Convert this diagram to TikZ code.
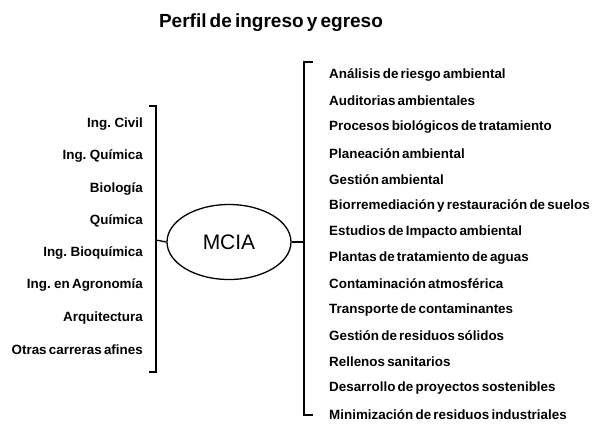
\documentclass[tikz,border=0pt]{standalone}
\usepackage{fontspec}
\setmainfont{Liberation Sans}[WordSpace=0.6]
\usetikzlibrary{shapes.geometric}
\begin{document}
\begin{tikzpicture}[x=1pt,y=-1pt,
  lbl/.style={font=\bfseries\fontsize{13.4}{15}\selectfont, inner sep=0pt},
  leftlbl/.style={lbl, anchor=east},
  rightlbl/.style={lbl, anchor=west},
  brk/.style={line width=1.3pt},
  conn/.style={line width=1.3pt}]
\useasboundingbox (0,0) rectangle (602,423);
\node[font=\bfseries\fontsize{19}{22}\selectfont, inner sep=0pt] (title) at (271,23) {Perfil de ingreso y egreso};
% left labels
\foreach \t [count=\i] in {Ing. Civil, Ing. Química, Biología, Química, Ing. Bioquímica, Ing. en Agronomía, Arquitectura, Otras carreras afines}
  \node[leftlbl] (L\i) at (143,{124+(\i-1)*32.3}) {\t};
% right labels
\foreach \t [count=\i] in {Análisis de riesgo ambiental, Auditorias ambientales, Procesos biológicos de tratamiento, Planeación ambiental, Gestión ambiental, Biorremediación y restauración de suelos, Estudios de Impacto ambiental, Plantas de tratamiento de aguas, Contaminación atmosférica, Transporte de contaminantes, Gestión de residuos sólidos, Rellenos sanitarios, Desarrollo de proyectos sostenibles, Minimización de residuos industriales}
  \node[rightlbl] (R\i) at (329,{75+(\i-1)*26.1}) {\t};
% ellipse
\node[draw, ellipse, line width=1.3pt, minimum width=124pt, minimum height=75pt, inner sep=0pt, font=\fontsize{21}{25}\selectfont] (M) at (229,242) {MCIA};
% left bracket
\coordinate (lt) at (156,106);
\coordinate (lb) at (156,372);
\coordinate (lm) at (156,240);
\draw[brk] ([xshift=-7pt]lt) -- (lt) -- (lb) -- ([xshift=-7pt]lb);
\draw[conn] (lm) -- (M.west);
% right bracket
\coordinate (rt) at (304,62);
\coordinate (rb) at (304,415);
\coordinate (rm) at (304,242);
\draw[brk] ([xshift=9pt]rt) -- (rt) -- (rb) -- ([xshift=9pt]rb);
\draw[conn] (M.east) -- (rm);
\end{tikzpicture}
\end{document}
